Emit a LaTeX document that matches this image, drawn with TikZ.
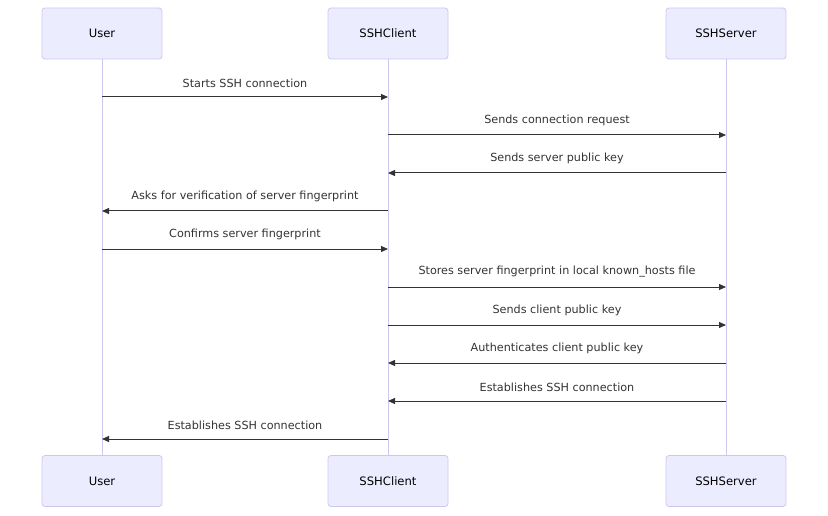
\documentclass[tikz,border=0pt]{standalone}
\usepackage{fontspec}
\setmainfont{DejaVu Sans}
\usetikzlibrary{arrows.meta}
\definecolor{actfill}{HTML}{ECECFF}
\definecolor{actline}{HTML}{CFC6F0}
\definecolor{msgcol}{HTML}{333333}
\begin{document}
\begin{tikzpicture}[x=1pt,y=-1pt,
  actor/.style={draw=actline,fill=actfill,rounded corners=3pt,minimum width=120pt,minimum height=51pt,inner sep=0pt,font=\fontsize{11.6}{13}\selectfont,line width=0.8pt},
  life/.style={draw=actline,line width=1pt},
  msg/.style={draw=msgcol,line width=1pt,-{Triangle[length=7pt,width=6pt]}},
  lbl/.style={font=\fontsize{11.2}{13}\selectfont,text=msgcol,above=9pt,inner sep=0pt}]
\useasboundingbox (0,0) rectangle (828,516);
\node[actor] (u1) at (102,33.5) {User};
\node[actor] (c1) at (388,33.5) {SSHClient};
\node[actor] (s1) at (726,33.5) {SSHServer};
\node[actor] (u2) at (102,481) {User};
\node[actor] (c2) at (388,481) {SSHClient};
\node[actor] (s2) at (726,481) {SSHServer};
\draw[life] (u1) -- (u2);
\draw[life] (c1) -- (c2);
\draw[life] (s1) -- (s2);
\foreach \n/\y in {1/97,2/135,3/173,4/211,5/249,6/287,7/325,8/363,9/401,10/439}{
  \coordinate (U\n) at (102,\y);
  \coordinate (C\n) at (388,\y);
  \coordinate (S\n) at (726,\y);
}
\draw[msg] (U1) -- node[lbl]{Starts SSH connection} (C1);
\draw[msg] (C2) -- node[lbl]{Sends connection request} (S2);
\draw[msg] (S3) -- node[lbl]{Sends server public key} (C3);
\draw[msg] (C4) -- node[lbl]{Asks for verification of server fingerprint} (U4);
\draw[msg] (U5) -- node[lbl]{Confirms server fingerprint} (C5);
\draw[msg] (C6) -- node[lbl]{Stores server fingerprint in local known\_hosts file} (S6);
\draw[msg] (C7) -- node[lbl]{Sends client public key} (S7);
\draw[msg] (S8) -- node[lbl]{Authenticates client public key} (C8);
\draw[msg] (S9) -- node[lbl]{Establishes SSH connection} (C9);
\draw[msg] (C10) -- node[lbl]{Establishes SSH connection} (U10);
\end{tikzpicture}
\end{document}
